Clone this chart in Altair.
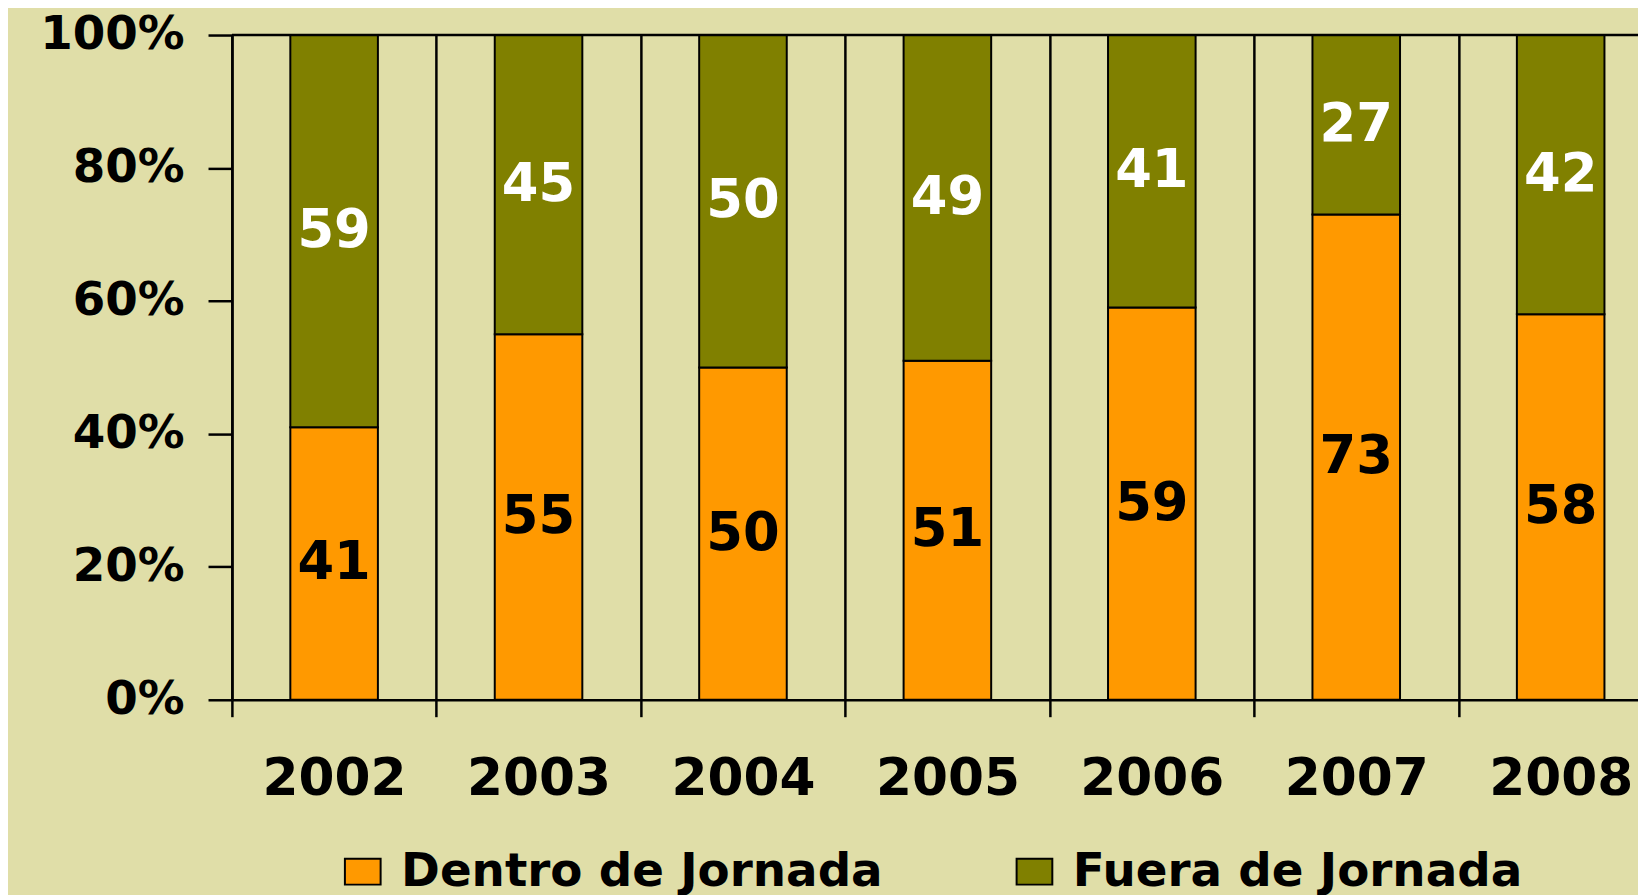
import altair as alt
import pandas as pd

years = ["2002", "2003", "2004", "2005", "2006", "2007", "2008"]
dentro = [41, 55, 50, 51, 59, 73, 58]
fuera = [59, 45, 50, 49, 41, 27, 42]
series = ["Dentro de Jornada", "Fuera de Jornada"]
colors = ["#FF9900", "#808000"]
y_ticks = [0, 20, 40, 60, 80, 100]
top_line = [100]

rows = []
for i, yr in enumerate(years):
    rows.append({"year": yr, "serie": series[0], "value": dentro[i], "ord": 0})
    rows.append({"year": yr, "serie": series[1], "value": fuera[i], "ord": 1})
df = pd.DataFrame(rows)

FONT = "DejaVu Sans"
BG = "#E0DEA8"
LW = 2.5

base = alt.Chart(df).transform_stack(
    stack="value", groupby=["year"], as_=["v0", "v1"], sort=[alt.SortField("ord")]
).transform_calculate(mid="(datum.v0 + datum.v1) / 2")

x_enc = alt.X(
    "year:N",
    scale=alt.Scale(domain=years, range=[0, 1438], paddingInner=0, paddingOuter=0),
    axis=alt.Axis(
        title=None, labelAngle=0, tickBand="extent",
        grid=True, gridColor="black", gridWidth=LW, gridOpacity=1,
        domainColor="black", domainWidth=LW,
        tickColor="black", tickWidth=LW, tickSize=17,
        labelFont=FONT, labelFontSize=52, labelFontWeight="bold",
        labelColor="black", labelPadding=37,
    ),
)

y_scale = alt.Scale(domain=[0, 100], nice=False)
y_axis = alt.Axis(
    title=None, values=y_ticks, labelExpr="datum.value + '%'", grid=False,
    domainColor="black", domainWidth=LW, tickColor="black", tickWidth=LW,
    tickSize=24, labelFont=FONT, labelFontSize=47, labelFontWeight="bold",
    labelColor="black", labelPadding=24,
)

bars = base.mark_bar(size=88, stroke="black", strokeWidth=2).encode(
    x=x_enc,
    y=alt.Y("v0:Q", scale=y_scale, axis=y_axis),
    y2="v1:Q",
    color=alt.Color(
        "serie:N",
        scale=alt.Scale(domain=series, range=colors),
        legend=alt.Legend(
            title=None, orient="none", legendX=108, legendY=817,
            direction="horizontal",
            symbolType="M-1.38,-1L1.38,-1L1.38,1L-1.38,1Z",
            symbolSize=676, symbolStrokeColor="black", symbolStrokeWidth=2,
            symbolOpacity=1,
            labelFont=FONT, labelFontSize=47, labelFontWeight="bold",
            labelColor="black", labelOffset=15, columnPadding=128,
            labelLimit=2000,
        ),
    ),
)

txt_in = base.transform_filter("datum.ord == 0").mark_text(
    font=FONT, fontSize=53, fontWeight="bold", baseline="middle", color="black"
).encode(x=alt.X("year:N"), y=alt.Y("mid:Q"), text="value:Q")

txt_out = base.transform_filter("datum.ord == 1").mark_text(
    font=FONT, fontSize=53, fontWeight="bold", baseline="middle", color="white"
).encode(x=alt.X("year:N"), y=alt.Y("mid:Q"), text="value:Q")

rule = alt.Chart(pd.DataFrame({"v": top_line})).mark_rule(
    color="black", strokeWidth=LW
).encode(y=alt.Y("v:Q"))

chart = alt.layer(bars, txt_in, txt_out, rule).properties(
    width=1413, height=668,
    autosize=alt.AutoSizeParams(type="none"),
    padding={"left": 225, "top": 25, "right": 0, "bottom": 194},
    background=BG,
).configure_view(stroke=None)

chart.save("out.html", embed_options={"renderer": "svg", "actions": False})
